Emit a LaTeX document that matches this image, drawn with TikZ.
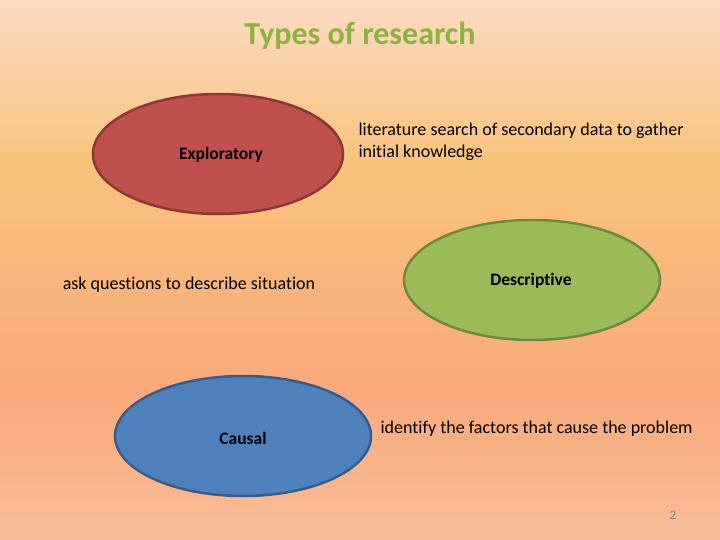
\documentclass[tikz,border=0pt]{standalone}
\usepackage{fontspec}
\setmainfont{Carlito}[RawFeature=-liga]
\usetikzlibrary{shapes.geometric}
\definecolor{c0}{HTML}{FCE8D6}
\definecolor{c1}{HTML}{FBC8A6}
\definecolor{c2}{HTML}{F9A97C}
\definecolor{c3}{HTML}{F9C37C}
\definecolor{c4}{HTML}{FCE6E6}
\definecolor{c5}{HTML}{FAE6D2}
\pgfdeclareverticalshading{bgshade}{100bp}{color(0bp)=(c0); color(17bp)=(c1); color(39bp)=(c2); color(60bp)=(c3); color(82bp)=(c4); color(100bp)=(c5)}
\definecolor{redf}{HTML}{C0504D}\definecolor{redd}{HTML}{8C3836}
\definecolor{grnf}{HTML}{9BBB59}\definecolor{grnd}{HTML}{71893F}
\definecolor{bluf}{HTML}{4F81BD}\definecolor{blud}{HTML}{385D8A}
\definecolor{ttl}{HTML}{8DB33E}
\tikzset{oval/.style={ellipse, line width=2.5pt, minimum width=256pt, minimum height=120pt},
  lbl/.style={font=\fontsize{18}{22}\selectfont, text=black, align=left},
  blbl/.style={font=\bfseries\fontsize{17.5}{21}\selectfont, text=black}}
\begin{document}
\begin{tikzpicture}[x=1pt,y=-1pt]
\useasboundingbox (0,0) rectangle (720,540);
\shade[shading=bgshade] (0,0) rectangle (720,540);
\node[font=\bfseries\fontsize{32}{36}\selectfont, text=ttl] (title) at (360,36) {Types of research};
\node[draw=redd, fill=redf, oval, minimum width=250pt] (e1) at (218,154) {};
\node[blbl] (t1) at (221,155) {Exploratory};
\node[lbl, anchor=west] (d1) at (355,142) {literature search of secondary data to gather\\initial knowledge};
\node[draw=grnd, fill=grnf, oval] (e2) at (532,280) {};
\node[blbl] (t2) at (531,281) {Descriptive};
\node[lbl] (d2) at (189,285) {ask questions to describe situation};
\node[draw=blud, fill=bluf, oval] (e3) at (243,436) {};
\node[blbl] (t3) at (243,438) {Causal};
\node[lbl, anchor=west] (d3) at (377,429) {identify the factors that cause the problem};
\node[font=\fontsize{13}{15}\selectfont, text=gray] (pg) at (673,515) {2};
\end{tikzpicture}
\end{document}
